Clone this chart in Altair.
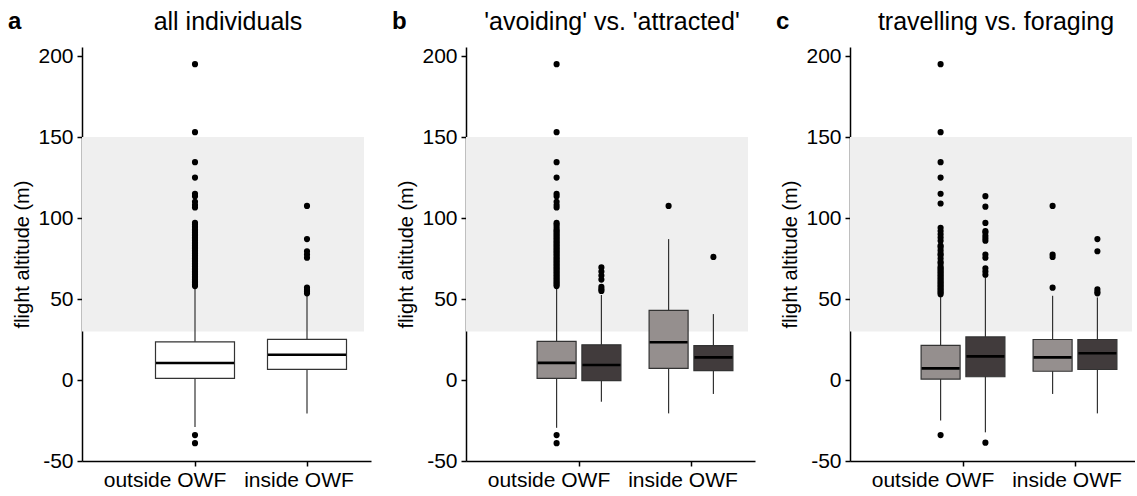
import altair as alt
import pandas as pd

FONT = "Liberation Sans, Arial, Helvetica, sans-serif"
positions = ["outside OWF", "inside OWF"]
rotor_lo = [30]
rotor_hi = [150]

# ---------- panel a: all individuals ----------
a_cat = ["outside OWF", "inside OWF"]
a_q1 = [1.0, 6.6]
a_med = [10.5, 15.6]
a_q3 = [23.6, 25.1]
a_lo = [-29.0, -20.6]
a_hi = [57.0, 52.5]
a_out_outside = [195, 153, 134.5, 125, 115, 113.5, 110, 108, 106.5, 97, 96, 94.5, 93, 92, 91, 90,
                 89, 88, 87, 86, 85, 84, 83, 82, 81, 80, 79, 78, 77, 76, 75, 74, 73, 72, 71, 70,
                 69, 68, 67, 66, 65, 64, 63, 62, 61, 60, 59, 58, -34, -39]
a_out_inside = [107.5, 87, 79.5, 77.5, 75.5, 57, 55.5, 54.5, 53.5]

# ---------- panel b: 'avoiding' vs. 'attracted' ----------
b_groups = ["avoiding", "attracted"]
b_cat = ["outside OWF", "outside OWF", "inside OWF", "inside OWF"]
b_grp = ["avoiding", "attracted", "avoiding", "attracted"]
b_q1 = [1.0, -0.4, 7.2, 5.8]
b_med = [10.6, 9.3, 23.3, 14.0]
b_q3 = [23.9, 21.7, 43.0, 21.2]
b_lo = [-29.5, -13.4, -20.6, -8.6]
b_hi = [57.0, 52.5, 87.0, 40.7]
b_out_outside_avoiding = [195, 153, 134.5, 125, 115, 113.5, 110, 108, 106.5, 97, 96, 94.5, 93, 92, 91,
                          90, 89, 88, 87, 86, 85, 84, 83, 82, 81, 80, 79, 78, 77, 76, 75, 74, 73, 72,
                          71, 70, 69, 68, 67, 66, 65, 64, 63, 62, 61, 60, 59, 58, -34, -39]
b_out_outside_attracted = [69.5, 67, 64.5, 62, 57.5, 56, 55]
b_out_inside_avoiding = [107.5]
b_out_inside_attracted = [76]

# ---------- panel c: travelling vs. foraging ----------
c_groups = ["travelling", "foraging"]
c_cat = ["outside OWF", "outside OWF", "inside OWF", "inside OWF"]
c_grp = ["travelling", "foraging", "travelling", "foraging"]
c_q1 = [0.6, 2.0, 5.4, 6.5]
c_med = [7.2, 14.6, 14.0, 16.5]
c_q3 = [21.4, 26.6, 25.0, 25.0]
c_lo = [-25.0, -32.3, -8.6, -20.6]
c_hi = [52.0, 63.5, 52.0, 51.0]
c_out_outside_travelling = [195, 153, 134.5, 125, 115, 109, 94, 92, 90, 88, 86, 83, 82, 80, 78, 77,
                            75, 73, 72, 70, 69, 68, 67, 66, 65, 64, 63, 62, 61, 60, 59, 58, 57, 56,
                            55, 54, 53, -34]
c_out_outside_foraging = [113.5, 107, 97, 92, 91, 89, 87.5, 86, 77.5, 75.5, 69, 67, 65, -38.7]
c_out_inside_travelling = [107.5, 77.5, 76, 57]
c_out_inside_foraging = [87, 79.5, 56, 54.5, 53.5]

LIGHT = "#958f8e"
DARK = "#413b3c"
LINE = "#333333"
Y_DOMAIN = [-50, 205.6]
H = 414
STEP = 112.0
PI = 0.2


def band_params(width, step=STEP, center1=113.0, pi=PI):
    po = (width / step - (2 - pi)) / 2
    offset = center1 - step * (1 - pi) / 2
    align = offset / (width - step * (2 - pi))
    return pi, po, align


def make_panel(letter, title, boxes, outs, width, groups=None, box_w=79, fills=None):
    pi, po, al = band_params(width)
    shift = STEP * (1 - pi) / 4
    xenc = alt.X("cat:N", scale=alt.Scale(domain=positions, paddingInner=pi, paddingOuter=po, align=al),
                 axis=alt.Axis(title=None, labelAngle=0, labelFontSize=21, labelColor="black",
                               labelFont=FONT, tickColor="black", domainColor="black", tickSize=5,
                               labelPadding=3, domainWidth=1.5, tickWidth=1.5, domain=True,
                               labelOffset={"condition": {"test": "datum.value == 'outside OWF'", "value": -30},
                                            "value": -8}))
    yaxis = alt.Axis(title="flight altitude (m)", values=[-50, 0, 50, 100, 150, 200], grid=False,
                     labelExpr="datum.value < 0 ? '-' + abs(datum.value) : datum.label",
                     labelFontSize=21, labelColor="black", labelFont=FONT, titleFont=FONT,
                     titleFontSize=20, titleFontWeight="normal", titleColor="black", titlePadding=5,
                     tickColor="black", domainColor="black", tickSize=5, labelPadding=4,
                     domainWidth=1.5, tickWidth=1.5, domain=True)
    yscale = alt.Scale(domain=Y_DOMAIN, nice=False, zero=False)

    band_df = pd.DataFrame({"lo": rotor_lo, "hi": rotor_hi})
    layers = [alt.Chart(band_df).mark_rect(color="#efefef").encode(
        x=alt.value(0), x2=alt.value(282),
        y=alt.Y("lo:Q", scale=yscale, axis=yaxis), y2="hi:Q")]

    if groups is None:
        specs = [(None, 0.0, "white")]
    else:
        specs = [(groups[0], -shift, fills[0]), (groups[1], shift, fills[1])]

    for g, dx, fill in specs:
        bsrc = alt.Chart(boxes)
        osrc = alt.Chart(outs)
        if g is not None:
            bsrc = bsrc.transform_filter(alt.datum.grp == g)
            osrc = osrc.transform_filter(alt.datum.grp == g)
        layers.append(bsrc.mark_rule(color=LINE, strokeWidth=1.2, xOffset=dx).encode(
            x=xenc, y=alt.Y("lo:Q", scale=yscale, axis=yaxis), y2="hi:Q"))
        layers.append(bsrc.mark_bar(size=box_w, stroke=LINE, strokeWidth=1.2, opacity=1,
                                    color=fill, xOffset=dx).encode(
            x=xenc, y=alt.Y("q1:Q", scale=yscale, axis=yaxis), y2="q3:Q"))
        layers.append(bsrc.mark_tick(size=box_w - 1, thickness=2.6, color="black", opacity=1,
                                     xOffset=dx).encode(
            x=xenc, y=alt.Y("med:Q", scale=yscale, axis=yaxis)))
        layers.append(osrc.mark_circle(size=38, color="black", opacity=1, xOffset=dx).encode(
            x=xenc, y=alt.Y("value:Q", scale=yscale, axis=yaxis)))

    lab_df = pd.DataFrame({"t": [letter]})
    layers.append(alt.Chart(lab_df).mark_text(font=FONT, fontSize=24, fontWeight="bold", align="left",
                                              baseline="alphabetic", color="black").encode(
        x=alt.value(-74), y=alt.value(-18), text="t:N"))
    tit_df = pd.DataFrame({"t": [title]})
    layers.append(alt.Chart(tit_df).mark_text(font=FONT, fontSize=25, align="center",
                                              baseline="alphabetic", color="black").encode(
        x=alt.value(146), y=alt.value(-17), text="t:N"))

    return alt.layer(*layers).properties(width=width, height=H)


# panel a data
a_box = pd.DataFrame({"cat": a_cat, "q1": a_q1, "med": a_med, "q3": a_q3, "lo": a_lo, "hi": a_hi})
a_out = pd.DataFrame({"cat": ["outside OWF"] * len(a_out_outside) + ["inside OWF"] * len(a_out_inside),
                      "value": a_out_outside + a_out_inside})

b_box = pd.DataFrame({"cat": b_cat, "grp": b_grp, "q1": b_q1, "med": b_med, "q3": b_q3, "lo": b_lo, "hi": b_hi})
b_out = pd.DataFrame({
    "cat": ["outside OWF"] * (len(b_out_outside_avoiding) + len(b_out_outside_attracted))
           + ["inside OWF"] * (len(b_out_inside_avoiding) + len(b_out_inside_attracted)),
    "grp": ["avoiding"] * len(b_out_outside_avoiding) + ["attracted"] * len(b_out_outside_attracted)
           + ["avoiding"] * len(b_out_inside_avoiding) + ["attracted"] * len(b_out_inside_attracted),
    "value": b_out_outside_avoiding + b_out_outside_attracted + b_out_inside_avoiding + b_out_inside_attracted})

c_box = pd.DataFrame({"cat": c_cat, "grp": c_grp, "q1": c_q1, "med": c_med, "q3": c_q3, "lo": c_lo, "hi": c_hi})
c_out = pd.DataFrame({
    "cat": ["outside OWF"] * (len(c_out_outside_travelling) + len(c_out_outside_foraging))
           + ["inside OWF"] * (len(c_out_inside_travelling) + len(c_out_inside_foraging)),
    "grp": ["travelling"] * len(c_out_outside_travelling) + ["foraging"] * len(c_out_outside_foraging)
           + ["travelling"] * len(c_out_inside_travelling) + ["foraging"] * len(c_out_inside_foraging),
    "value": c_out_outside_travelling + c_out_outside_foraging + c_out_inside_travelling + c_out_inside_foraging})

pa = make_panel("a", "all individuals", a_box, a_out, 289, groups=None, box_w=79)
pb = make_panel("b", "'avoiding' vs. 'attracted'", b_box, b_out, 289, groups=b_groups, box_w=39,
                fills=[LIGHT, DARK])
pc = make_panel("c", "travelling vs. foraging", c_box, c_out, 285, groups=c_groups, box_w=39,
                fills=[LIGHT, DARK])

chart = alt.hconcat(pa, pb, pc, spacing=21).properties(
    padding={"left": 8, "top": 10, "right": 0, "bottom": 0}
).configure(font=FONT).configure_view(stroke=None, strokeWidth=0)

chart.save("out.html", embed_options={"renderer": "svg", "actions": False})
